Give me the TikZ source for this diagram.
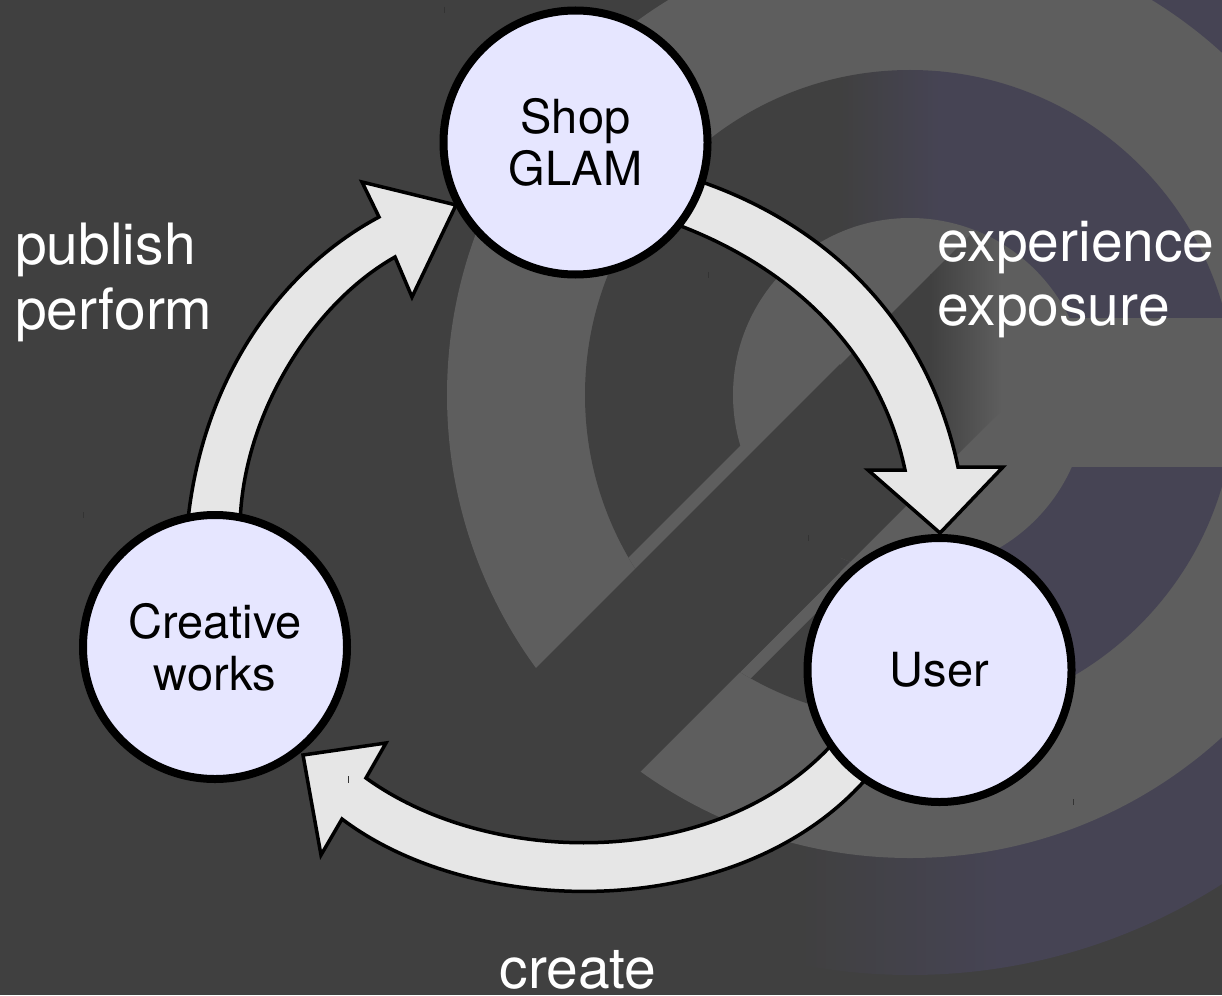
\documentclass[tikz,border=0pt]{standalone}
\usepackage{fontspec}
\setmainfont{TeX Gyre Heros}
\definecolor{bgdark}{HTML}{404040}
\definecolor{logogray}{HTML}{5E5E5E}
\definecolor{logopurple}{HTML}{464454}
\definecolor{nodefill}{HTML}{E6E6FF}
\definecolor{arrowfill}{HTML}{E6E6E6}
\tikzset{
  hub/.style={circle,draw=black,fill=nodefill,line width=8pt,outer sep=0pt,inner sep=0pt,minimum size=264pt,align=center,text=black,font=\fontsize{47}{52}\selectfont},
  lab/.style={text=white,inner sep=0pt,font=\fontsize{57}{64.5}\selectfont},
  blockarrow/.style={draw=black,fill=arrowfill,line width=3.5pt,line join=miter,miter limit=10},
  tick/.style={draw=black!80,line width=0.8pt}
}
\begin{document}
\begin{tikzpicture}[x=1pt,y=-1pt]
\useasboundingbox (0,0) rectangle (1222,995);
\clip (0,0) rectangle (1222,995);
\fill[bgdark] (0,0) rectangle (1222,995);
\coordinate (logo) at (910,395);
% outer ring, fades to purple
\begin{scope}
  \clip (logo) circle (580pt);
  \shade[left color=bgdark,right color=logopurple] (800,-200) rectangle (1000,995);
  \fill[logopurple] (999,-200) rectangle (1300,995);
\end{scope}
% gray ring
\fill[logogray] (logo) circle (463pt);
% second ring
\begin{scope}
  \clip (logo) circle (325pt);
  \fill[bgdark] (500,-100) rectangle (840,900);
  \shade[left color=bgdark,right color=logopurple] (840,-100) rectangle (940,900);
  \fill[logopurple] (939,-100) rectangle (1300,900);
  \fill[logogray] (1000,318) rectangle (1300,467);
  \fill[logogray] (400,786) -- (400,805) -- (900,305) -- (900,286) -- cycle;
  \fill[logogray] (600,812) -- (600,829) -- (1000,429) -- (1000,412) -- cycle;
\end{scope}
% inner disk
\fill[logogray] (logo) circle (177pt);
\begin{scope}
  \clip (logo) circle (177pt);
  \clip (700,505) -- (1100,105) -- (1100,312) -- (700,712) -- cycle;
  \shade[left color=bgdark,right color=logogray] (930,100) rectangle (1002,800);
  \fill[bgdark] (830,100) rectangle (931,800);
\end{scope}
% diagonal cut through all rings, left of the fade
\fill[bgdark] (840,364) -- (400,804) -- (400,990) -- (422,990) -- (840,572) -- cycle;
% circles
\coordinate (c1) at (575.5,142.5);
\coordinate (c2) at (939.5,670);
\coordinate (c3) at (215,647);
% block arrows
\draw[blockarrow] (690,178) .. controls (815,218) and (925,310) .. (958,467) -- (1003,467) -- (940,533) -- (868,470) -- (905,470) .. controls (880,350) and (790,265) .. (670,222) -- cycle;
\draw[blockarrow] (872,772) .. controls (745,925) and (475,920) .. (342,819) -- (321,855) -- (303,755) -- (386,743) -- (366,778) .. controls (490,868) and (720,872) .. (836,740) -- cycle;
\draw[blockarrow] (187,530) .. controls (200,380) and (280,270) .. (379,217) -- (362,182) -- (456,205) -- (412,297) -- (395,257) .. controls (310,305) and (240,420) .. (240,530) -- cycle;
% nodes
\node[hub] (shop) at (c1) {Shop\\GLAM};
\node[hub] (user) at (c2) {User};
\node[hub] (works) at (c3) {Creative\\works};
% labels
\node[lab,align=left,anchor=west] (l1) at (15,282.5) {publish\\perform};
\node[lab,align=left,anchor=west] (l2) at (937,279.5) {experience\\exposure};
\node[lab,anchor=base] (l3) at (578,988) {create};
% small ticks
\draw[tick] (444,7) -- (444,13);
\draw[tick] (708,272) -- (708,278);
\draw[tick] (83,512) -- (83,518);
\draw[tick] (808,535) -- (808,541);
\draw[tick] (1073,799) -- (1073,805);
\draw[tick] (348,776) -- (348,783);
\end{tikzpicture}
\end{document}
